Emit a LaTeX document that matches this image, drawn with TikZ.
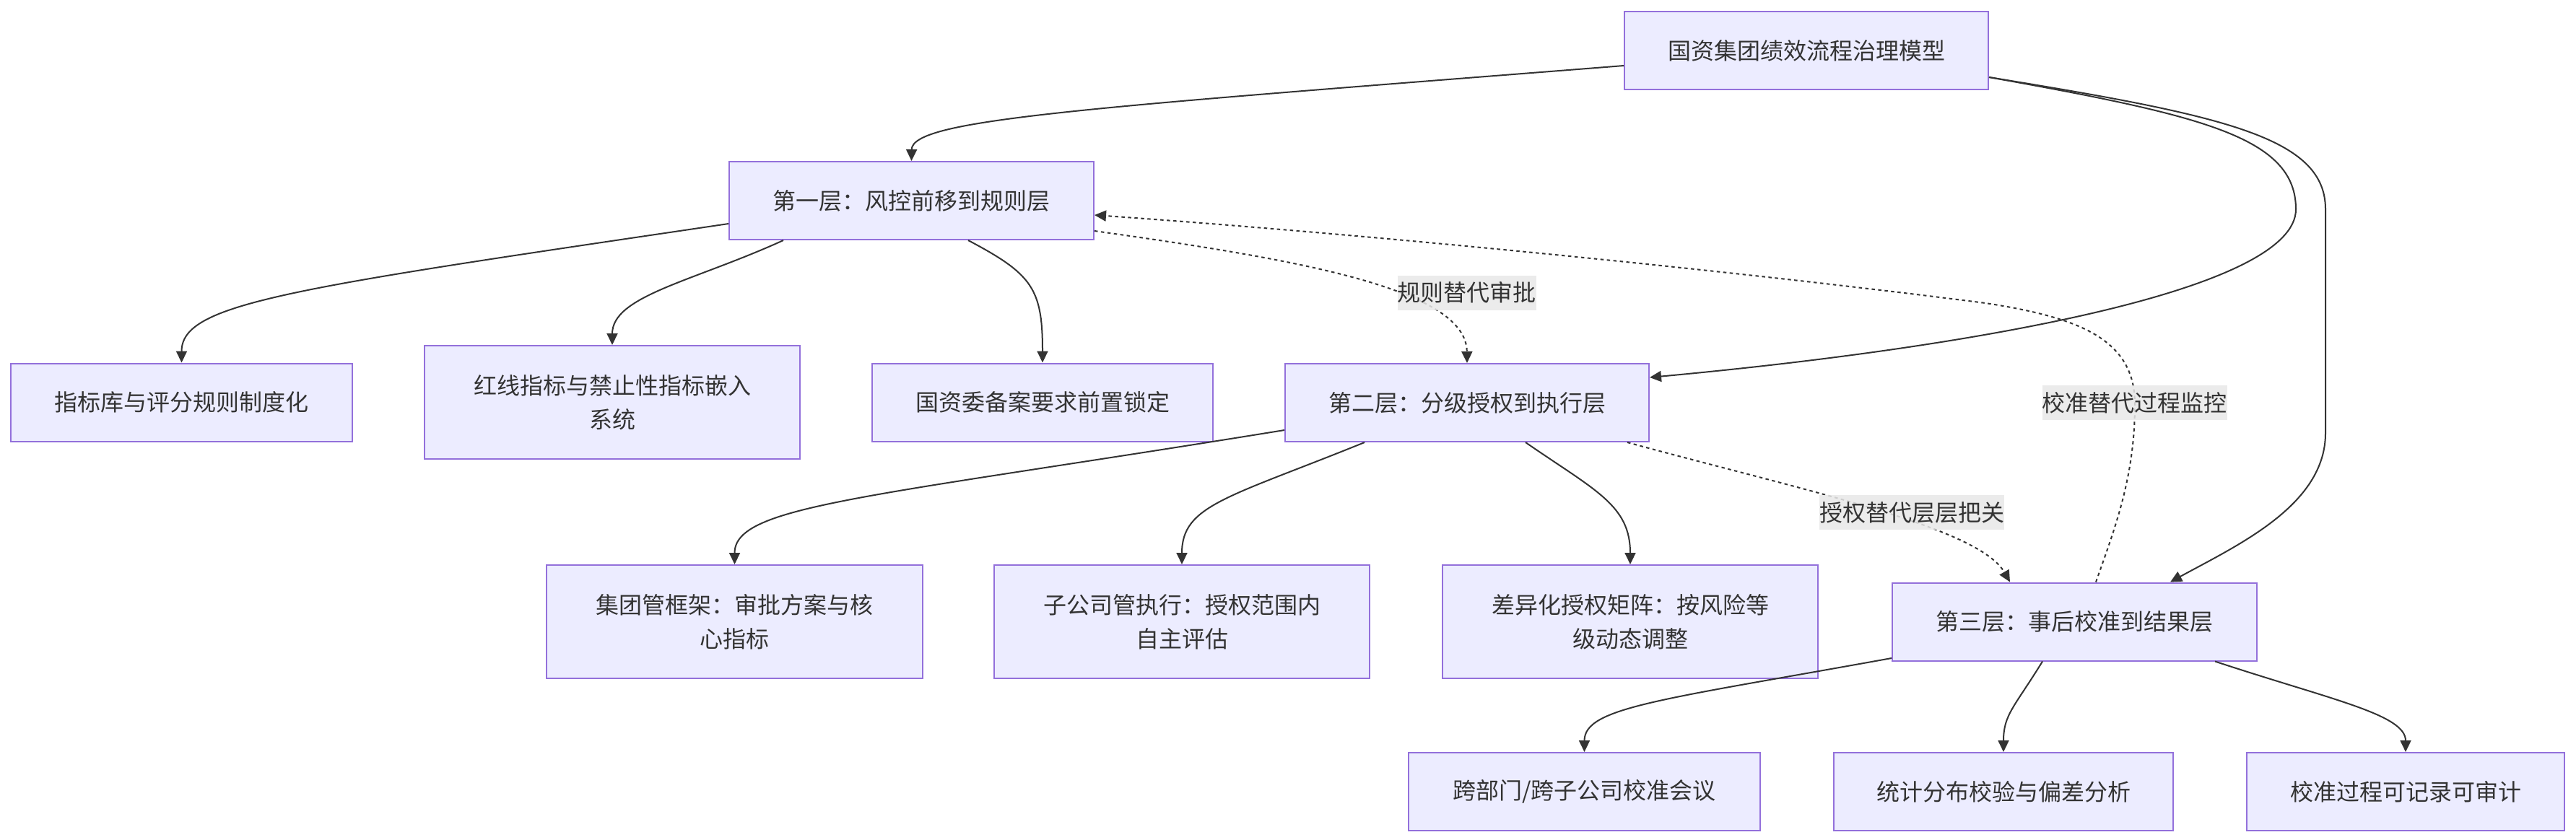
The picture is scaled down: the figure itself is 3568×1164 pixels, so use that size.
\documentclass[tikz,border=0pt]{standalone}
\usepackage{fontspec}
\setmainfont{Noto Sans CJK SC}
\usetikzlibrary{arrows.meta,calc}
\definecolor{boxfill}{HTML}{ECECFF}
\definecolor{boxdraw}{HTML}{9370DB}
\definecolor{edgecol}{HTML}{333333}
\definecolor{lblbg}{HTML}{E8E8E8}
\begin{document}
\begin{tikzpicture}[x=1pt,y=-1pt,
  box/.style={draw=boxdraw, fill=boxfill, line width=2pt, text=edgecol, align=center, inner sep=0pt, font=\fontsize{32}{47}\selectfont},
  one/.style={box, minimum height=108pt},
  two/.style={box, minimum height=157pt},
  link/.style={draw=edgecol, line width=2pt, -{Triangle[length=16pt,width=15pt]}},
  dotlink/.style={link, dash pattern=on 4.5pt off 4.5pt},
  lbl/.style={fill=lblbg, fill opacity=0.85, text opacity=1, text=edgecol, inner sep=0pt, minimum height=48pt, font=\fontsize{32}{40}\selectfont}
]
\fill[white] (0,0) rectangle (3568,1164);
\useasboundingbox (0,0) rectangle (3568,1164);

% nodes
\node[one, minimum width=504pt] (top) at (2502,70) {国资集团绩效流程治理模型};
\node[one, minimum width=505pt] (L1) at (1262.5,278) {第一层：风控前移到规则层};
\node[one, minimum width=473pt] (A1) at (251.5,557.5) {指标库与评分规则制度化};
\node[two, minimum width=520pt] (A2) at (848,557.5) {红线指标与禁止性指标嵌入\\系统};
\node[one, minimum width=472pt] (A3) at (1444,557.5) {国资委备案要求前置锁定};
\node[one, minimum width=504pt] (L2) at (2032,558) {第二层：分级授权到执行层};
\node[two, minimum width=521pt] (B1) at (1017.5,861.5) {集团管框架：审批方案与核\\心指标};
\node[two, minimum width=520pt] (B2) at (1637,861.5) {子公司管执行：授权范围内\\自主评估};
\node[two, minimum width=520pt] (B3) at (2258,861.5) {差异化授权矩阵：按风险等\\级动态调整};
\node[one, minimum width=505pt] (L3) at (2873.5,861.5) {第三层：事后校准到结果层};
\node[one, minimum width=487pt] (C1) at (2194.5,1097) {跨部门/跨子公司校准会议};
\node[one, minimum width=470pt] (C2) at (2775,1097) {统计分布校验与偏差分析};
\node[one, minimum width=440pt] (C3) at (3332,1097) {校准过程可记录可审计};

% edges from top
\draw[link] ([yshift=-21pt]top.west) .. controls (1500,150) and (1263,165) .. (L1.north);
\draw[link] ([yshift=-37pt]top.east) .. controls (3050,160) and (3180,190) .. (3180,290) .. controls (3180,400) and (2750,480) .. ([yshift=35pt]L2.east);
\draw[link] ([yshift=-37pt]top.east) .. controls (3080,160) and (3221,190) .. (3221,290) -- (3221,600) .. controls (3221,700) and (3100,755) .. ([xshift=132.5pt]L3.north);

% layer 1 children
\draw[link] ([yshift=-32pt]L1.west) .. controls (400,400) and (251.5,420) .. (A1.north);
\draw[link] ([xshift=-177.5pt]L1.south) .. controls (960,390) and (848,410) .. (A2.north);
\draw[link] ([xshift=78.5pt]L1.south) .. controls (1430,380) and (1444,400) .. (A3.north);

% layer 2 children
\draw[link] ([yshift=-38pt]L2.west) .. controls (1200,690) and (1017.5,700) .. (B1.north);
\draw[link] ([xshift=-142pt]L2.south) .. controls (1700,690) and (1637,700) .. (B2.north);
\draw[link] ([xshift=81pt]L2.south) .. controls (2210,680) and (2258,700) .. (B3.north);

% layer 3 children
\draw[link] ([yshift=-50.5pt]L3.west) .. controls (2300,970) and (2194.5,980) .. (C1.north);
\draw[link] ([xshift=-44.5pt]L3.south) .. controls (2790,980) and (2775,990) .. (C2.north);
\draw[link] ([xshift=194.5pt]L3.south) .. controls (3230,970) and (3332,990) .. (C3.north);

% dotted links
\draw[dotlink] ([yshift=-42pt]L1.east) .. controls (1800,360) and (2031,400) .. (L2.north);
\draw[dotlink] ([xshift=222pt]L2.south) .. controls (2500,680) and (2740,730) .. ([xshift=-89.5pt]L3.north);
\draw[dotlink] ([xshift=29.5pt]L3.north) .. controls (2930,730) and (2957,660) .. (2957,560) .. controls (2957,470) and (2880,440) .. (2750,420) .. controls (2400,375) and (1900,325) .. ([yshift=-20pt]L1.east);

% labels
\node[lbl] (lab1) at (2031.6,405.5) {规则替代审批};
\node[lbl] (lab2) at (2648,710) {授权替代层层把关};
\node[lbl] (lab3) at (2956.5,558) {校准替代过程监控};
\end{tikzpicture}
\end{document}
